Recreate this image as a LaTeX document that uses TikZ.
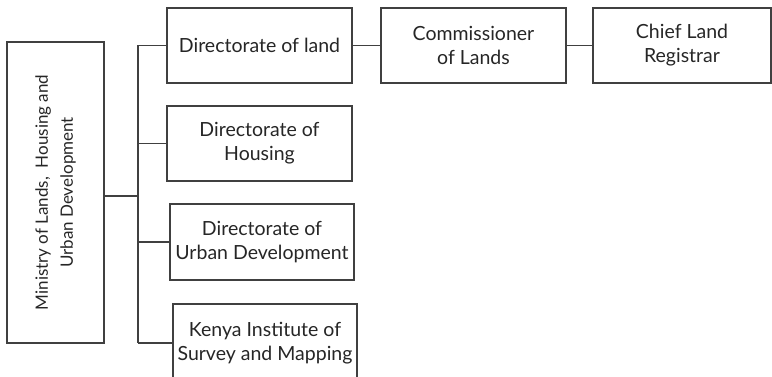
\documentclass[tikz,border=0pt]{standalone}
\usepackage{fontspec}
\setmainfont{Lato}
\begin{document}
\begin{tikzpicture}[x=1pt,y=-1pt,
  ink/.style={draw=black!75,line width=1.1pt},
  unit/.style={ink,rectangle,align=center,inner sep=0pt,text=black!85,
    font=\fontsize{19.5}{24}\selectfont},
  link/.style={black!75,line width=1.1pt}]
\clip (0,0) rectangle (772,377);
% ministry (rotated label)
\node[unit,minimum width=97pt,minimum height=301pt] (min) at (55.5,192.5) {};
\node[rotate=90,align=center,text=black!85,font=\fontsize{17}{25}\selectfont]
  (minlabel) at (min.center) {Ministry of Lands,\ \ Housing and\\Urban Development};
% directorates
\node[unit,minimum width=185pt,minimum height=75pt] (land) at (259.5,45.5) {Directorate of land};
\node[unit,minimum width=185pt,minimum height=75pt] (housing) at (259.5,143.5) {Directorate of\\Housing};
\node[unit,minimum width=184pt,minimum height=76pt] (urban) at (262,242) {Directorate of\\Urban Development};
\node[unit,minimum width=184pt,minimum height=78pt] (kism) at (265,343) {Kenya Institute of\\Survey and Mapping};
% land chain
\node[unit,minimum width=185pt,minimum height=75pt] (comm) at (473.5,45.5) {Commissioner\\of Lands};
\node[unit,minimum width=178pt,minimum height=75pt] (reg) at (682,45.5) {Chief Land\\Registrar};
% connectors
\coordinate (trunk) at (138,196);
\draw[link] (min.east |- trunk) -- (trunk);
\draw[link] (trunk |- land.west) -- (trunk |- kism.west);
\foreach \n in {land,housing,urban,kism}
  \draw[link] (trunk |- \n.west) -- (\n.west);
\draw[link] (land) -- (comm);
\draw[link] (comm) -- (reg);
\end{tikzpicture}
\end{document}
